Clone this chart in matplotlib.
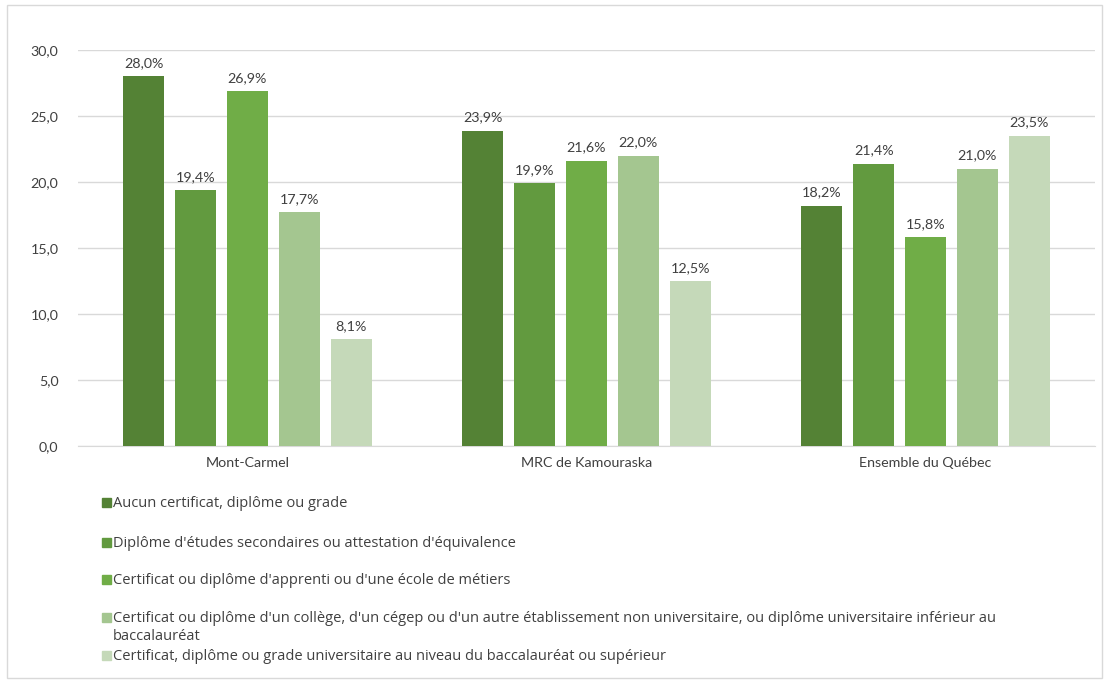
import numpy as np
import matplotlib.pyplot as plt
from matplotlib.patches import Rectangle

plt.rcParams["font.family"] = ["Lato", "DejaVu Sans"]

groupes = ["Mont-Carmel", "MRC de Kamouraska", "Ensemble du Québec"]
series = [
    "Aucun certificat, diplôme ou grade",
    "Diplôme d'études secondaires ou attestation d'équivalence",
    "Certificat ou diplôme d'apprenti ou d'une école de métiers",
    "Certificat ou diplôme d'un collège, d'un cégep ou d'un autre établissement non universitaire, ou diplôme universitaire inférieur au\nbaccalauréat",
    "Certificat, diplôme ou grade universitaire au niveau du baccalauréat ou supérieur",
]
aucun = [28.0, 23.9, 18.2]
secondaire = [19.4, 19.9, 21.4]
apprenti = [26.9, 21.6, 15.8]
college = [17.7, 22.0, 21.0]
universite = [8.1, 12.5, 23.5]
valeurs = [aucun, secondaire, apprenti, college, universite]

couleurs = ["#548235", "#629A3F", "#70AD47", "#A4C690", "#C5D9B9"]
texte = "#404040"

fig = plt.figure(figsize=(11.08, 6.81), dpi=100)
ax = fig.add_axes([78 / 1108, 1 - 446 / 681, (1095 - 78) / 1108, (446 - 50) / 681])

x = np.arange(len(groupes))
pas = 0.153
larg = 0.122
for i, (vals, c) in enumerate(zip(valeurs, couleurs)):
    pos = x + (i - 2) * pas
    barres = ax.bar(pos, vals, larg, color=c, zorder=3)
    for b, v in zip(barres, vals):
        ax.text(b.get_x() + b.get_width() / 2, v + 0.55, f"{v:.1f}%".replace(".", ","),
                ha="center", va="bottom", fontsize=10.3, color=texte)

ax.set_xlim(-0.5, 2.5)
ax.set_ylim(0, 30)
ax.set_yticks(np.arange(0, 31, 5))
ax.set_yticklabels([f"{t:.1f}".replace(".", ",") for t in np.arange(0, 31, 5)])
ax.set_xticks(x)
ax.set_xticklabels(groupes)
ax.tick_params(length=0, labelsize=10.3, labelcolor=texte)
ax.tick_params(axis="y", pad=14)
ax.tick_params(axis="x", pad=8)
ax.grid(axis="y", color="#D9D9D9", linewidth=1, zorder=0)
for s in ["top", "right", "left"]:
    ax.spines[s].set_visible(False)
ax.spines["bottom"].set_color("#D9D9D9")

# légende manuelle sous le graphique
lignes_y = [502, 542, 579, 617, 655]
for nom, c, yy in zip(series, couleurs, lignes_y):
    fig.patches.append(Rectangle((102 / 1108, 1 - (yy + 5) / 681), 9 / 1108, 9 / 681,
                                 transform=fig.transFigure, color=c))
    fig.text(113 / 1108, 1 - (yy - 6) / 681, nom, ha="left", va="top",
             fontsize=10.5, color=texte, linespacing=1.25, family=["Open Sans", "DejaVu Sans"])

# cadre du graphique
fig.patches.append(Rectangle((7 / 1108, 3 / 681), 1095 / 1108, 673 / 681,
                             transform=fig.transFigure, fill=False,
                             edgecolor="#D9D9D9", linewidth=1))

fig.savefig("out.png", dpi=100)
